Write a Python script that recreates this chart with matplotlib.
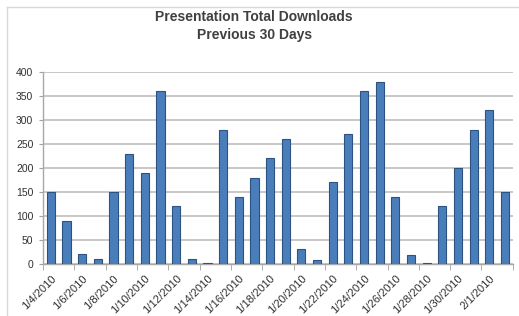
import matplotlib.pyplot as plt
from matplotlib.lines import Line2D
import numpy as np

plt.rcParams['font.family'] = ['Liberation Sans', 'DejaVu Sans']

# Datos: descargas diarias (4 ene - 2 feb 2010)
dates = ["1/4/2010", "1/5/2010", "1/6/2010", "1/7/2010", "1/8/2010", "1/9/2010",
         "1/10/2010", "1/11/2010", "1/12/2010", "1/13/2010", "1/14/2010", "1/15/2010",
         "1/16/2010", "1/17/2010", "1/18/2010", "1/19/2010", "1/20/2010", "1/21/2010",
         "1/22/2010", "1/23/2010", "1/24/2010", "1/25/2010", "1/26/2010", "1/27/2010",
         "1/28/2010", "1/29/2010", "1/30/2010", "1/31/2010", "2/1/2010", "2/2/2010"]
downloads = [150, 90, 20, 10, 150, 230, 190, 360, 120, 10, 2, 280,
             140, 180, 220, 260, 30, 8, 170, 270, 360, 380, 140, 18,
             1, 120, 200, 280, 320, 150]
yticks = [0, 50, 100, 150, 200, 250, 300, 350, 400]

fig = plt.figure(figsize=(5.19, 3.16), dpi=100)
ax = fig.add_axes([0.083, 0.165, 0.905, 0.607])

x = np.arange(len(dates))
ax.bar(x, downloads, width=0.52, color="#4A7EBB", edgecolor="#2C5282", linewidth=0.8, zorder=3)

ax.set_xlim(-0.5, len(dates) - 0.5)
ax.set_ylim(0, 400)
ax.set_yticks(yticks)
ax.set_yticklabels([str(v) for v in yticks], fontsize=7.5, color="#303030")
ax.yaxis.grid(True, color="#C4C4C4", linewidth=1.3, zorder=0)

# etiquetas cada 2 días
ax.set_xticks(x[::2])
ax.set_xticklabels(dates[::2], rotation=45, ha="right", rotation_mode="anchor",
                   fontsize=8, color="#303030")
ax.tick_params(axis="x", length=0, pad=7)
ax.set_xticks(np.arange(-0.5, len(dates), 2), minor=True)
ax.tick_params(axis="x", which="minor", length=4, color="#A0A0A0")
ax.tick_params(axis="y", length=3, color="#A0A0A0", pad=4)

for side in ["top", "right"]:
    ax.spines[side].set_visible(False)
for side in ["left", "bottom"]:
    ax.spines[side].set_color("#A8A8A8")
    ax.spines[side].set_linewidth(1.0)

# marco del gráfico
fig.add_artist(Line2D([7 / 519, 1], [1 - 7 / 316, 1 - 7 / 316], color="#D8D8D8", linewidth=1))
fig.add_artist(Line2D([7 / 519, 7 / 519], [0, 1 - 7 / 316], color="#D8D8D8", linewidth=1))

fig.text(0.49, 1 - 26 / 316, "Presentation Total Downloads\nPrevious 30 Days",
         ha="center", va="center", fontsize=10, fontweight="bold", color="#404040",
         linespacing=1.3)

fig.savefig("out.png", dpi=100)
